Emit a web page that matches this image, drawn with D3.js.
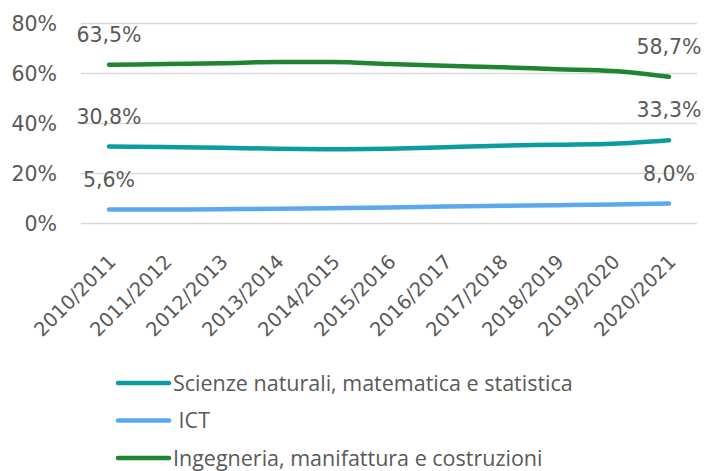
<!DOCTYPE html>
<html>
<head>
<meta charset="utf-8">
<script src="https://cdn.jsdelivr.net/npm/d3@7"></script>
<style>
  body { margin: 0; background: #fff; }
  text { fill: #595959; }
  .num { font-family: "DejaVu Sans", sans-serif; }
  .leg { font-family: "Open Sans", sans-serif; }
</style>
</head>
<body>
<div id="chart"></div>
<script>
var years = ['2010/2011','2011/2012','2012/2013','2013/2014','2014/2015','2015/2016',
             '2016/2017','2017/2018','2018/2019','2019/2020','2020/2021']
var scienze = [30.8, 30.6, 30.3, 29.9, 29.7, 29.9, 30.5, 31.1, 31.5, 31.9, 33.3]
var ict = [5.6, 5.6, 5.7, 5.9, 6.1, 6.4, 6.8, 7.1, 7.3, 7.6, 8.0]
var ingegneria = [63.5, 63.8, 64.1, 64.6, 64.6, 63.8, 63.1, 62.5, 61.7, 61.0, 58.7]
var yTicks = [0, 20, 40, 60, 80]

var series = [
  { name: 'Scienze naturali, matematica e statistica', values: scienze, color: '#0a9c9e' },
  { name: ' ICT', values: ict, color: '#5aa9f0' },
  { name: 'Ingegneria, manifattura e costruzioni', values: ingegneria, color: '#1f8533' }
]

var width = 705, height = 471

var svg = d3.select('#chart').append('svg')
    .attr('width', width)
    .attr('height', height)

var x = d3.scalePoint().domain(years).range([81, 697]).padding(0.5)
var y = d3.scaleLinear().domain([0, 80]).range([223.5, 23.5])

var fmt = function (v) { return v.toFixed(1).replace('.', ',') + '%' }

// gridlines
svg.append('g').selectAll('line')
  .data(yTicks)
  .enter().append('line')
    .attr('x1', 81).attr('x2', 697)
    .attr('y1', function (d) { return y(d) })
    .attr('y2', function (d) { return y(d) })
    .attr('stroke', '#d9d9d9')
    .attr('stroke-width', 1.5)

// y axis labels
svg.append('g').selectAll('text')
  .data(yTicks)
  .enter().append('text')
    .attr('class', 'num')
    .attr('x', 57)
    .attr('y', function (d) { return y(d) })
    .attr('dy', '0.36em')
    .attr('text-anchor', 'end')
    .attr('font-size', 20.5)
    .text(function (d) { return d + '%' })

// x axis labels
svg.append('g').selectAll('text')
  .data(years)
  .enter().append('text')
    .attr('class', 'num')
    .attr('text-anchor', 'end')
    .attr('font-size', 19.5)
    .attr('transform', function (d) { return 'translate(' + (x(d) + 8) + ',263) rotate(-45)' })
    .text(function (d) { return d })

var line = d3.line()
  .x(function (d, i) { return x(years[i]) })
  .y(function (d) { return y(d) })
  .curve(d3.curveMonotoneX)

svg.append('g').selectAll('path')
  .data(series)
  .enter().append('path')
    .attr('d', function (s) { return line(s.values) })
    .attr('fill', 'none')
    .attr('stroke', function (s) { return s.color })
    .attr('stroke-width', 4.5)
    .attr('stroke-linecap', 'round')

// data labels at first and last point
series.forEach(function (s) {
  var n = s.values.length - 1
  ;[0, n].forEach(function (i) {
    svg.append('text')
      .attr('class', 'num')
      .attr('x', x(years[i]))
      .attr('y', y(s.values[i]) - 23)
      .attr('text-anchor', 'middle')
      .attr('font-size', 20.5)
      .text(fmt(s.values[i]))
  })
})

// legend
var legend = svg.append('g').selectAll('g')
  .data(series)
  .enter().append('g')
    .attr('transform', function (s, i) { return 'translate(0,' + (383 + i * 37.5) + ')' })

legend.append('line')
  .attr('x1', 118).attr('x2', 169)
  .attr('stroke', function (s) { return s.color })
  .attr('stroke-width', 4.5)
  .attr('stroke-linecap', 'round')

legend.append('text')
  .attr('class', 'leg')
  .attr('x', 173)
  .attr('dy', '0.35em')
  .attr('font-size', 21.5)
  .style('white-space', 'pre')
  .text(function (s) { return s.name })
</script>
</body>
</html>
